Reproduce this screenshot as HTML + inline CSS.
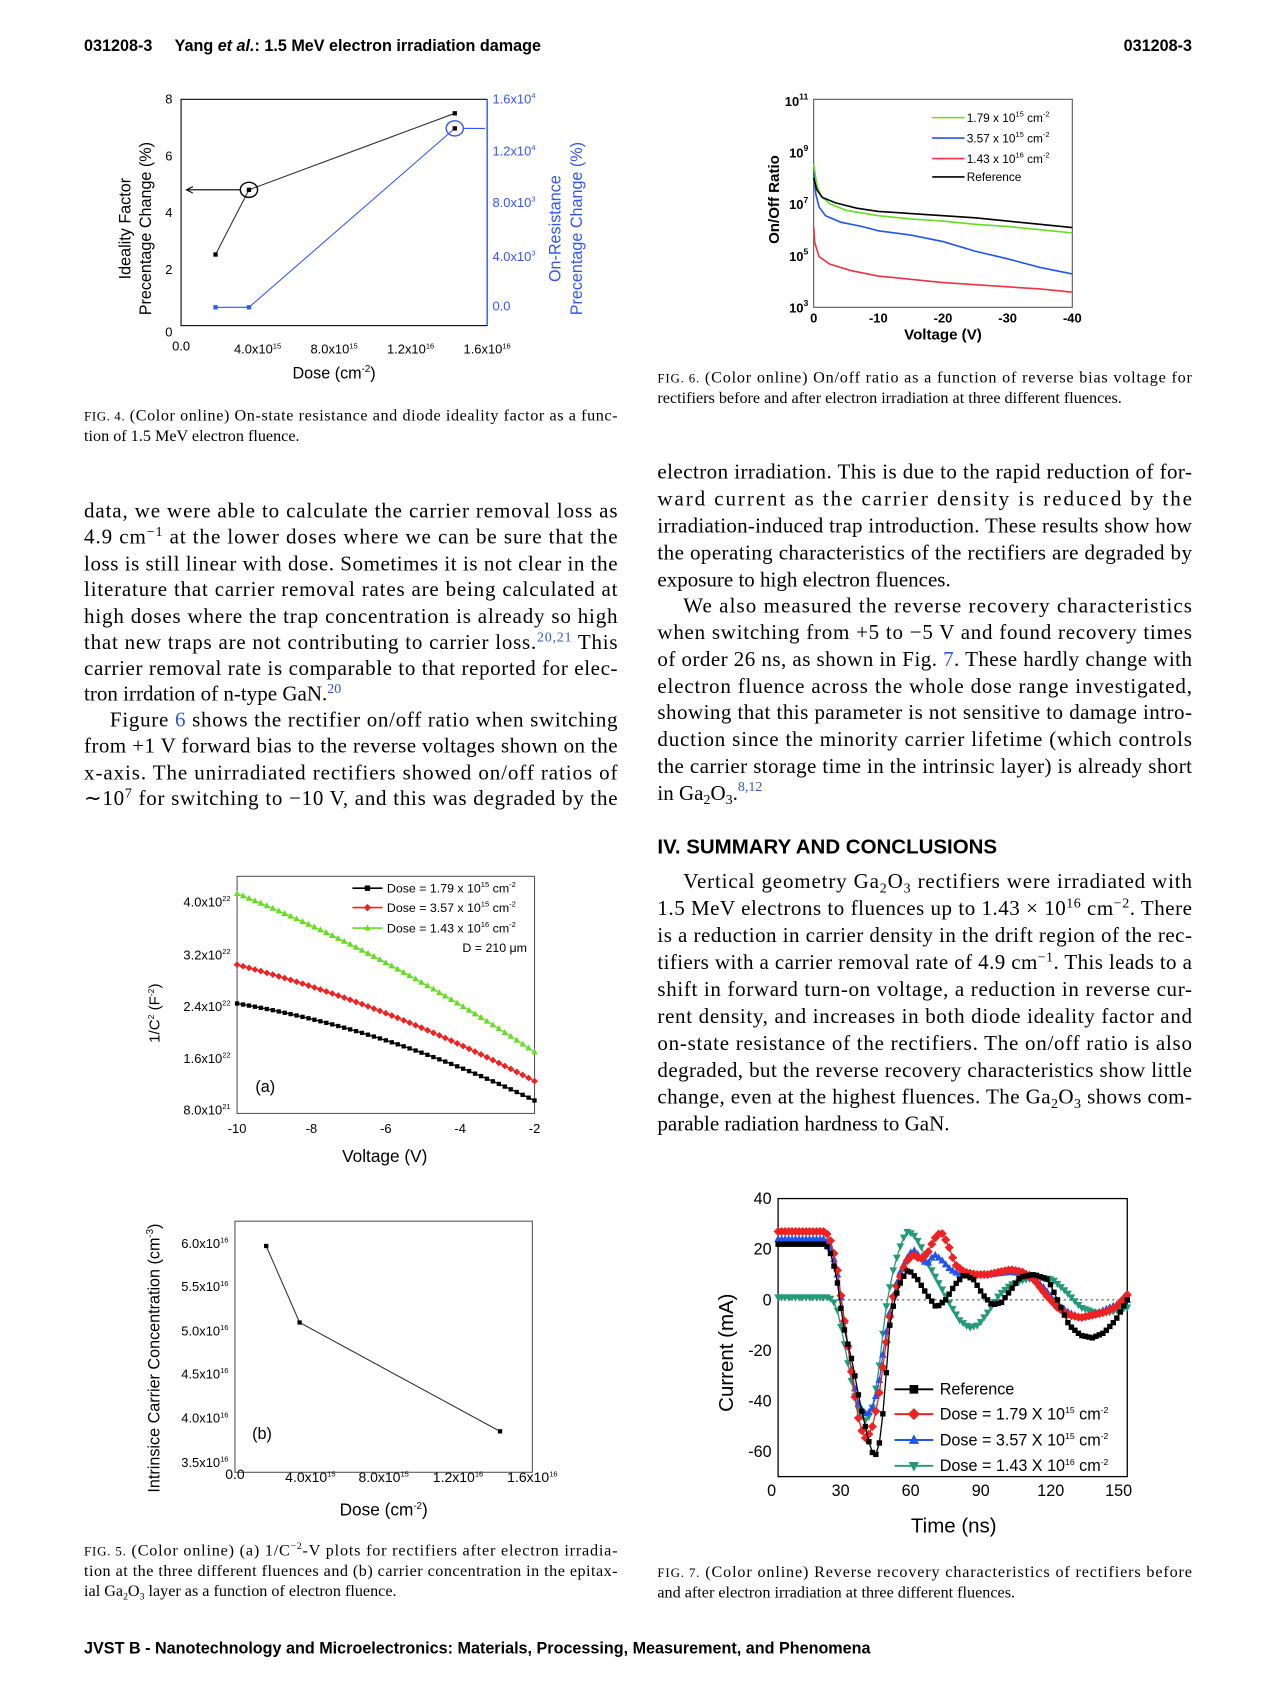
<!DOCTYPE html>
<html><head><meta charset="utf-8"><style>
html,body{margin:0;padding:0;background:#fff;}
svg{display:block}
.s{font-family:"Liberation Sans",sans-serif}
.r{font-family:"Liberation Serif",serif}
</style></head><body>
<svg id="S" width="1276" height="1688" viewBox="0 0 1184 1566" xmlns="http://www.w3.org/2000/svg">
<rect width="1184" height="1566" fill="#fff"/>
<!-- header -->
<text x="78" y="47" class="s" font-size="15" font-weight="bold">031208-3</text>
<text x="162" y="47" class="s" font-size="15" font-weight="bold">Yang <tspan font-style="italic">et al.</tspan>: 1.5 MeV electron irradiation damage</text>
<text x="1106" y="47" class="s" font-size="15" font-weight="bold" text-anchor="end">031208-3</text>

<!-- FIG 4 -->
<g class="s" font-size="12">
<rect x="168" y="92" width="284" height="210" fill="none" stroke="#000" stroke-width="1"/>
<line x1="452" y1="92" x2="452" y2="302" stroke="#3355ff" stroke-width="1.2"/>
<text x="160" y="96" text-anchor="end">8</text>
<text x="160" y="149" text-anchor="end">6</text>
<text x="160" y="201" text-anchor="end">4</text>
<text x="160" y="254" text-anchor="end">2</text>
<text x="160" y="312" text-anchor="end">0</text>
<g fill="#3355ff"><text x="457" y="96">1.6x10<tspan font-size="7" dy="-5">4</tspan></text>
<text x="457" y="144">1.2x10<tspan font-size="7" dy="-5">4</tspan></text>
<text x="457" y="192">8.0x10<tspan font-size="7" dy="-5">3</tspan></text>
<text x="457" y="242">4.0x10<tspan font-size="7" dy="-5">3</tspan></text>
<text x="457" y="288">0.0</text></g>
<text x="168" y="325" text-anchor="middle">0.0</text>
<text x="239" y="328" text-anchor="middle">4.0x10<tspan font-size="7" dy="-5">15</tspan></text>
<text x="310" y="328" text-anchor="middle">8.0x10<tspan font-size="7" dy="-5">15</tspan></text>
<text x="381" y="328" text-anchor="middle">1.2x10<tspan font-size="7" dy="-5">16</tspan></text>
<text x="452" y="328" text-anchor="middle">1.6x10<tspan font-size="7" dy="-5">16</tspan></text>
<text x="310" y="351" text-anchor="middle" font-size="15">Dose (cm<tspan font-size="9" dy="-6">-2</tspan><tspan dy="6">)</tspan></text>
<text transform="translate(121,212) rotate(-90)" text-anchor="middle" font-size="15">Ideality Factor</text>
<text transform="translate(140,212) rotate(-90)" text-anchor="middle" font-size="15">Precentage Change (%)</text>
<text transform="translate(520,212) rotate(-90)" text-anchor="middle" font-size="15" fill="#3355ff">On-Resistance</text>
<text transform="translate(540,212) rotate(-90)" text-anchor="middle" font-size="15" fill="#3355ff">Precentage Change (%)</text>
<polyline points="200,236 231,176 422,105" fill="none" stroke="#333" stroke-width="1"/>
<rect x="198" y="234" width="4" height="4"/><rect x="229" y="174" width="4" height="4"/><rect x="420" y="103" width="4" height="4"/>
<polyline points="200,285 231,285 422,119" fill="none" stroke="#3355ff" stroke-width="1"/>
<rect x="198" y="283" width="4" height="4" fill="#3355ff"/><rect x="229" y="283" width="4" height="4" fill="#3355ff"/><rect x="420" y="117" width="4" height="4" fill="#000"/>
<ellipse cx="231" cy="176" rx="8" ry="7" fill="none" stroke="#000" stroke-width="1.3"/>
<line x1="223" y1="176" x2="174" y2="176" stroke="#000"/><path d="M179,173 L173,176 L179,179" fill="none" stroke="#000"/>
<ellipse cx="422" cy="119" rx="8" ry="7" fill="none" stroke="#3355ff" stroke-width="1.3"/>
<line x1="430" y1="119" x2="450" y2="119" stroke="#3355ff"/>
</g>
<text x="78" y="390" class="r" font-size="15" textLength="495" lengthAdjust="spacing"><tspan font-size="12">FIG. 4.</tspan> (Color online) On-state resistance and diode ideality factor as a func-</text>
<text x="78" y="409" class="r" font-size="15">tion of 1.5 MeV electron fluence.</text>

<!-- FIG 6 -->
<g class="s" font-size="12">
<rect x="755" y="92" width="240" height="193" fill="none" stroke="#555" stroke-width="1"/>
<g font-weight="bold">
<text x="750" y="98" text-anchor="end">10<tspan font-size="8" dy="-6">11</tspan></text>
<text x="750" y="146" text-anchor="end">10<tspan font-size="8" dy="-6">9</tspan></text>
<text x="750" y="194" text-anchor="end">10<tspan font-size="8" dy="-6">7</tspan></text>
<text x="750" y="242" text-anchor="end">10<tspan font-size="8" dy="-6">5</tspan></text>
<text x="750" y="290" text-anchor="end">10<tspan font-size="8" dy="-6">3</tspan></text>
<text x="755" y="299" text-anchor="middle">0</text>
<text x="815" y="299" text-anchor="middle">-10</text>
<text x="875" y="299" text-anchor="middle">-20</text>
<text x="935" y="299" text-anchor="middle">-30</text>
<text x="995" y="299" text-anchor="middle">-40</text>
<text x="875" y="315" text-anchor="middle" font-size="14">Voltage (V)</text>
<text transform="translate(723,185) rotate(-90)" text-anchor="middle" font-size="14">On/Off Ratio</text>
</g>
<g font-size="11">
<line x1="865" y1="109" x2="895" y2="109" stroke="#66dd22" stroke-width="1.5"/><text x="897" y="113">1.79 x 10<tspan font-size="7" dy="-5">15</tspan><tspan dy="5"> cm</tspan><tspan font-size="7" dy="-5">-2</tspan></text>
<line x1="865" y1="128" x2="895" y2="128" stroke="#2255ee" stroke-width="1.5"/><text x="897" y="132">3.57 x 10<tspan font-size="7" dy="-5">15</tspan><tspan dy="5"> cm</tspan><tspan font-size="7" dy="-5">-2</tspan></text>
<line x1="865" y1="147" x2="895" y2="147" stroke="#ee3344" stroke-width="1.5"/><text x="897" y="151">1.43 x 10<tspan font-size="7" dy="-5">16</tspan><tspan dy="5"> cm</tspan><tspan font-size="7" dy="-5">-2</tspan></text>
<line x1="865" y1="164" x2="895" y2="164" stroke="#000" stroke-width="1.5"/><text x="897" y="168">Reference</text>
</g>
<polyline fill="none" stroke="#66dd22" stroke-width="1.5" points="755,152 758,172 762,182 770,189 785,195 815,200 845,203 875,205 905,208 935,210 965,213 995,216"/>
<polyline fill="none" stroke="#2255ee" stroke-width="1.5" points="755,160 757,180 760,192 766,200 780,206 800,210 815,214 845,218 875,224 905,233 935,240 965,248 995,254"/>
<polyline fill="none" stroke="#ee3344" stroke-width="1.5" points="755,210 756,225 760,238 770,245 790,251 815,256 845,259 875,262 905,264 935,266 965,268 995,271"/>
<polyline fill="none" stroke="#000" stroke-width="1.5" points="755,165 758,176 763,183 775,188 795,193 815,196 845,198 875,200 905,202 935,205 965,208 995,211"/>
</g>
<text x="610" y="355" class="r" font-size="15" textLength="496" lengthAdjust="spacing"><tspan font-size="12">FIG. 6.</tspan> (Color online) On/off ratio as a function of reverse bias voltage for</text>
<text x="610" y="374" class="r" font-size="15">rectifiers before and after electron irradiation at three different fluences.</text>

<!-- body text left -->
<g class="r" font-size="19.5">
<text x="78" y="480" textLength="495" lengthAdjust="spacing">data, we were able to calculate the carrier removal loss as</text>
<text x="78" y="504" textLength="495" lengthAdjust="spacing">4.9 cm<tspan font-size="13" dy="-7">−1</tspan><tspan dy="7"> at the lower doses where we can be sure that the</tspan></text>
<text x="78" y="529" textLength="495" lengthAdjust="spacing">loss is still linear with dose. Sometimes it is not clear in the</text>
<text x="78" y="553" textLength="495" lengthAdjust="spacing">literature that carrier removal rates are being calculated at</text>
<text x="78" y="578" textLength="495" lengthAdjust="spacing">high doses where the trap concentration is already so high</text>
<text x="78" y="602" textLength="495" lengthAdjust="spacing">that new traps are not contributing to carrier loss.<tspan font-size="13" dy="-7" fill="#3355cc">20,21</tspan><tspan dy="7"> This</tspan></text>
<text x="78" y="626" textLength="495" lengthAdjust="spacing">carrier removal rate is comparable to that reported for elec-</text>
<text x="78" y="650">tron irrdation of n-type GaN.<tspan font-size="13" dy="-7" fill="#3355cc">20</tspan></text>
<text x="102" y="674" textLength="471" lengthAdjust="spacing">Figure <tspan fill="#3355cc">6</tspan> shows the rectifier on/off ratio when switching</text>
<text x="78" y="698" textLength="495" lengthAdjust="spacing">from +1 V forward bias to the reverse voltages shown on the</text>
<text x="78" y="723" textLength="495" lengthAdjust="spacing">x-axis. The unirradiated rectifiers showed on/off ratios of</text>
<text x="78" y="747" textLength="495" lengthAdjust="spacing">∼10<tspan font-size="13" dy="-7">7</tspan><tspan dy="7"> for switching to −10 V, and this was degraded by the</tspan></text>
</g>
<!-- body text right -->
<g class="r" font-size="19.5">
<text x="610" y="444" textLength="496" lengthAdjust="spacing">electron irradiation. This is due to the rapid reduction of for-</text>
<text x="610" y="469" textLength="496" lengthAdjust="spacing">ward current as the carrier density is reduced by the</text>
<text x="610" y="494" textLength="496" lengthAdjust="spacing">irradiation-induced trap introduction. These results show how</text>
<text x="610" y="519" textLength="496" lengthAdjust="spacing">the operating characteristics of the rectifiers are degraded by</text>
<text x="610" y="544">exposure to high electron fluences.</text>
<text x="634" y="568" textLength="472" lengthAdjust="spacing">We also measured the reverse recovery characteristics</text>
<text x="610" y="593" textLength="496" lengthAdjust="spacing">when switching from +5 to −5 V and found recovery times</text>
<text x="610" y="618" textLength="496" lengthAdjust="spacing">of order 26 ns, as shown in Fig. <tspan fill="#3355cc">7</tspan>. These hardly change with</text>
<text x="610" y="643" textLength="496" lengthAdjust="spacing">electron fluence across the whole dose range investigated,</text>
<text x="610" y="667" textLength="496" lengthAdjust="spacing">showing that this parameter is not sensitive to damage intro-</text>
<text x="610" y="692" textLength="496" lengthAdjust="spacing">duction since the minority carrier lifetime (which controls</text>
<text x="610" y="717" textLength="496" lengthAdjust="spacing">the carrier storage time in the intrinsic layer) is already short</text>
<text x="610" y="742">in Ga<tspan font-size="13" dy="4">2</tspan><tspan dy="-4">O</tspan><tspan font-size="13" dy="4">3</tspan><tspan dy="-4">.</tspan><tspan font-size="13" dy="-8" fill="#3355cc">8,12</tspan></text>
<text x="610" y="792" class="s" font-size="19" font-weight="bold">IV. SUMMARY AND CONCLUSIONS</text>
<text x="634" y="824" textLength="472" lengthAdjust="spacing">Vertical geometry Ga<tspan font-size="13" dy="4">2</tspan><tspan dy="-4">O</tspan><tspan font-size="13" dy="4">3</tspan><tspan dy="-4"> rectifiers were irradiated with</tspan></text>
<text x="610" y="849" textLength="496" lengthAdjust="spacing">1.5 MeV electrons to fluences up to 1.43 × 10<tspan font-size="13" dy="-7">16</tspan><tspan dy="7"> cm</tspan><tspan font-size="13" dy="-7">−2</tspan><tspan dy="7">. There</tspan></text>
<text x="610" y="874" textLength="496" lengthAdjust="spacing">is a reduction in carrier density in the drift region of the rec-</text>
<text x="610" y="899" textLength="496" lengthAdjust="spacing">tifiers with a carrier removal rate of 4.9 cm<tspan font-size="13" dy="-7">−1</tspan><tspan dy="7">. This leads to a</tspan></text>
<text x="610" y="924" textLength="496" lengthAdjust="spacing">shift in forward turn-on voltage, a reduction in reverse cur-</text>
<text x="610" y="949" textLength="496" lengthAdjust="spacing">rent density, and increases in both diode ideality factor and</text>
<text x="610" y="974" textLength="496" lengthAdjust="spacing">on-state resistance of the rectifiers. The on/off ratio is also</text>
<text x="610" y="999" textLength="496" lengthAdjust="spacing">degraded, but the reverse recovery characteristics show little</text>
<text x="610" y="1024" textLength="496" lengthAdjust="spacing">change, even at the highest fluences. The Ga<tspan font-size="13" dy="4">2</tspan><tspan dy="-4">O</tspan><tspan font-size="13" dy="4">3</tspan><tspan dy="-4"> shows com-</tspan></text>
<text x="610" y="1049">parable radiation hardness to GaN.</text>
</g>

<!-- FIG 5a -->
<g class="s" font-size="12" id="f5a">
<rect x="220" y="813" width="276" height="220" fill="none" stroke="#555"/>
<text x="214" y="841" text-anchor="end">4.0x10<tspan font-size="7" dy="-5">22</tspan></text>
<text x="214" y="890" text-anchor="end">3.2x10<tspan font-size="7" dy="-5">22</tspan></text>
<text x="214" y="938" text-anchor="end">2.4x10<tspan font-size="7" dy="-5">22</tspan></text>
<text x="214" y="986" text-anchor="end">1.6x10<tspan font-size="7" dy="-5">22</tspan></text>
<text x="214" y="1034" text-anchor="end">8.0x10<tspan font-size="7" dy="-5">21</tspan></text>
<text x="220" y="1051" text-anchor="middle">-10</text><text x="289" y="1051" text-anchor="middle">-8</text><text x="358" y="1051" text-anchor="middle">-6</text><text x="427" y="1051" text-anchor="middle">-4</text><text x="496" y="1051" text-anchor="middle">-2</text>
<text x="357" y="1078" text-anchor="middle" font-size="16">Voltage (V)</text>
<text transform="translate(148,940) rotate(-90)" text-anchor="middle" font-size="14">1/C<tspan font-size="8" dy="-5">2</tspan><tspan dy="5"> (F</tspan><tspan font-size="8" dy="-5">-2</tspan><tspan dy="5">)</tspan></text>
<text x="237" y="1013" font-size="15">(a)</text>
<g font-size="11.5">
<text x="359" y="828">Dose = 1.79 x 10<tspan font-size="7" dy="-5">15</tspan><tspan dy="5"> cm</tspan><tspan font-size="7" dy="-5">-2</tspan></text>
<text x="359" y="846">Dose = 3.57 x 10<tspan font-size="7" dy="-5">15</tspan><tspan dy="5"> cm</tspan><tspan font-size="7" dy="-5">-2</tspan></text>
<text x="359" y="865">Dose = 1.43 x 10<tspan font-size="7" dy="-5">16</tspan><tspan dy="5"> cm</tspan><tspan font-size="7" dy="-5">-2</tspan></text>
<text x="489" y="883" text-anchor="end">D = 210 μm</text>
</g>
</g>

<!-- FIG 5b -->
<g class="s" font-size="12">
<rect x="218" y="1133" width="276" height="233" fill="none" stroke="#555"/>
<text x="212" y="1158" text-anchor="end">6.0x10<tspan font-size="7" dy="-5">16</tspan></text>
<text x="212" y="1198" text-anchor="end">5.5x10<tspan font-size="7" dy="-5">16</tspan></text>
<text x="212" y="1239" text-anchor="end">5.0x10<tspan font-size="7" dy="-5">16</tspan></text>
<text x="212" y="1279" text-anchor="end">4.5x10<tspan font-size="7" dy="-5">16</tspan></text>
<text x="212" y="1320" text-anchor="end">4.0x10<tspan font-size="7" dy="-5">16</tspan></text>
<text x="212" y="1361" text-anchor="end">3.5x10<tspan font-size="7" dy="-5">16</tspan></text>
<text x="218" y="1372" text-anchor="middle" font-size="13">0.0</text>
<text x="288" y="1375" text-anchor="middle" font-size="13">4.0x10<tspan font-size="7" dy="-5">15</tspan></text>
<text x="356" y="1375" text-anchor="middle" font-size="13">8.0x10<tspan font-size="7" dy="-5">15</tspan></text>
<text x="425" y="1375" text-anchor="middle" font-size="13">1.2x10<tspan font-size="7" dy="-5">16</tspan></text>
<text x="494" y="1375" text-anchor="middle" font-size="13">1.6x10<tspan font-size="7" dy="-5">16</tspan></text>
<text x="356" y="1406" text-anchor="middle" font-size="16">Dose (cm<tspan font-size="9" dy="-6">-2</tspan><tspan dy="6">)</tspan></text>
<text transform="translate(148,1260) rotate(-90)" text-anchor="middle" font-size="15">Intrinsice Carrier Concentration (cm<tspan font-size="9" dy="-6">-3</tspan><tspan dy="6">)</tspan></text>
<text x="234" y="1335" font-size="15">(b)</text>
<polyline points="247,1156 278,1227 464,1328" fill="none" stroke="#333"/>
<rect x="245" y="1154" width="4" height="4"/><rect x="276" y="1225" width="4" height="4"/><rect x="462" y="1326" width="4" height="4"/>
</g>
<text x="78" y="1443" class="r" font-size="15" textLength="495" lengthAdjust="spacing"><tspan font-size="12">FIG. 5.</tspan> (Color online) (a) 1/C<tspan font-size="9" dy="-6">−2</tspan><tspan dy="6">-V plots for rectifiers after electron irradia-</tspan></text>
<text x="78" y="1462" class="r" font-size="15" textLength="495" lengthAdjust="spacing">tion at the three different fluences and (b) carrier concentration in the epitax-</text>
<text x="78" y="1481" class="r" font-size="15">ial Ga<tspan font-size="9" dy="3">2</tspan><tspan dy="-3">O</tspan><tspan font-size="9" dy="3">3</tspan><tspan dy="-3"> layer as a function of electron fluence.</tspan></text>

<!-- FIG 7 -->
<g class="s" font-size="15" id="f7">
<rect x="722" y="1112" width="324" height="258" fill="none" stroke="#000" stroke-width="1.2"/>
<line x1="722" y1="1206" x2="1046" y2="1206" stroke="#333" stroke-dasharray="2,3"/>
<text x="716" y="1117" text-anchor="end">40</text><text x="716" y="1164" text-anchor="end">20</text><text x="716" y="1211" text-anchor="end">0</text>
<text x="716" y="1258" text-anchor="end">-20</text><text x="716" y="1305" text-anchor="end">-40</text><text x="716" y="1352" text-anchor="end">-60</text>
<text x="716" y="1388" text-anchor="middle">0</text><text x="780" y="1388" text-anchor="middle">30</text><text x="845" y="1388" text-anchor="middle">60</text><text x="910" y="1388" text-anchor="middle">90</text><text x="975" y="1388" text-anchor="middle">120</text><text x="1038" y="1388" text-anchor="middle">150</text>
<text x="885" y="1422" text-anchor="middle" font-size="19">Time (ns)</text>
<text transform="translate(680,1255) rotate(-90)" text-anchor="middle" font-size="19">Current (mA)</text>
<g font-size="15">
<text x="872" y="1294">Reference</text>
<text x="872" y="1317">Dose = 1.79 X 10<tspan font-size="8" dy="-6">15</tspan><tspan dy="6"> cm</tspan><tspan font-size="8" dy="-6">-2</tspan></text>
<text x="872" y="1341">Dose = 3.57 X 10<tspan font-size="8" dy="-6">15</tspan><tspan dy="6"> cm</tspan><tspan font-size="8" dy="-6">-2</tspan></text>
<text x="872" y="1365">Dose = 1.43 X 10<tspan font-size="8" dy="-6">16</tspan><tspan dy="6"> cm</tspan><tspan font-size="8" dy="-6">-2</tspan></text>
</g>
</g>
<text x="610" y="1463" class="r" font-size="15" textLength="496" lengthAdjust="spacing"><tspan font-size="12">FIG. 7.</tspan> (Color online) Reverse recovery characteristics of rectifiers before</text>
<text x="610" y="1482" class="r" font-size="15">and after electron irradiation at three different fluences.</text>

<text x="78" y="1534" class="s" font-size="15" font-weight="bold">JVST B - Nanotechnology and Microelectronics: Materials, Processing, Measurement, and Phenomena</text>
</svg>
<script>
var NS="http://www.w3.org/2000/svg",S=document.getElementById("S");
function el(t,a){var e=document.createElementNS(NS,t);for(var k in a)e.setAttribute(k,a[k]);S.appendChild(e);return e;}
function interp(p,x){for(var i=0;i<p.length-1;i++){if(x<=p[i+1][0]){var a=p[i],b=p[i+1];return a[1]+(b[1]-a[1])*(x-a[0])/(b[0]-a[0]);}}return p[p.length-1][1];}
function marker(type,x,y,c,s){
 if(type=="sq")el("rect",{x:x-s/2,y:y-s/2,width:s,height:s,fill:c});
 else if(type=="di")el("polygon",{points:(x)+","+(y-s*0.7)+" "+(x+s*0.7)+","+y+" "+x+","+(y+s*0.7)+" "+(x-s*0.7)+","+y,fill:c});
 else if(type=="tu")el("polygon",{points:x+","+(y-s*0.65)+" "+(x+s*0.6)+","+(y+s*0.45)+" "+(x-s*0.6)+","+(y+s*0.45),fill:c});
 else el("polygon",{points:x+","+(y+s*0.65)+" "+(x+s*0.6)+","+(y-s*0.45)+" "+(x-s*0.6)+","+(y-s*0.45),fill:c});
}
function series(f,x0,x1,step,fx,fy,c,type,ms){
 var d="";for(var x=x0;x<=x1+1e-9;x+=step){var X=fx(x),Y=fy(f(x));d+=(d?"L":"M")+X.toFixed(1)+","+Y.toFixed(1);}
 el("path",{d:d,fill:"none",stroke:c,"stroke-width":1.2});
 for(var x=x0;x<=x1+1e-9;x+=step){marker(type,fx(x),fy(f(x)),c,ms);}
}
function P(p){return function(x){return interp(p,x);};}
function Q(a,b,c){return function(v){var t=(v+10)/8;return a+b*t+c*t*t;};}
// fig5a
var fx5=function(v){return 220+(v+10)*34.5},fy5=function(v){return 1030-(v-0.8)/0.8*48};
series(Q(2.45,-0.78,-0.72),-10,-2,0.16,fx5,fy5,"#000","sq",4);
series(Q(3.05,-1.2,-0.6),-10,-2,0.16,fx5,fy5,"#ee2222","di",4.5);
series(Q(4.15,-1.83,-0.62),-10,-2,0.16,fx5,fy5,"#66dd22","tu",5);
[[824,"#000","sq"],[842,"#ee2222","di"],[861,"#66dd22","tu"]].forEach(function(l){el("line",{x1:327,y1:l[0],x2:355,y2:l[0],stroke:l[1],"stroke-width":1.5});marker(l[2],341,l[0],l[1],5);});
// fig7
var fx7=function(t){return 722+t*2.16},fy7=function(i){return 1206-i*2.35};
var ref=[[0,22],[20,22],[22,20],[25,10],[28,-10],[32,-25],[35,-40],[38,-52],[40,-60],[42,-61],[44,-55],[46,-35],[48,-10],[50,0],[53,8],[56,12],[60,8],[64,2],[68,-3],[72,0],[76,6],[80,10],[84,8],[88,2],[92,-2],[96,-1],[100,4],[104,9],[110,10],[116,8],[120,0],[125,-10],[130,-14],[135,-15],[140,-13],[145,-8],[150,0]];
var red=[[0,27],[20,27],[22,25],[25,15],[28,-5],[31,-25],[34,-45],[37,-55],[40,-52],[43,-40],[46,-20],[49,0],[52,8],[55,15],[58,18],[61,16],[64,18],[67,24],[70,27],[73,22],[76,14],[80,11],[85,10],[90,10],[95,11],[100,12],[105,11],[110,8],[115,2],[120,-3],[125,-6],[130,-7],[135,-6],[140,-5],[145,-3],[150,2]];
var blu=[[0,24],[20,24],[22,22],[25,13],[28,-5],[31,-25],[34,-40],[37,-45],[40,-44],[43,-35],[46,-15],[49,0],[52,10],[55,16],[58,20],[61,17],[64,14],[67,18],[70,16],[74,12],[78,10],[84,10],[90,10],[100,11],[108,10],[114,5],[120,-2],[125,-5],[130,-7],[135,-6],[140,-4],[150,0]];
var grn=[[0,1],[22,1],[25,-2],[28,-15],[31,-30],[34,-42],[37,-48],[40,-45],[43,-30],[46,-5],[49,10],[52,20],[55,27],[58,26],[61,22],[64,15],[67,10],[70,5],[74,-2],[78,-8],[82,-11],[86,-10],[90,-5],[95,2],[100,6],[106,8],[112,9],[118,8],[124,3],[130,-3],[136,-5],[142,-5],[150,-3]];
series(P(grn),0,150,1.5,fx7,fy7,"#229977","td",6);
series(P(blu),0,150,1.5,fx7,fy7,"#2255ee","tu",6);
series(P(red),0,150,1.5,fx7,fy7,"#ee2222","di",6);
series(P(ref),0,150,1.5,fx7,fy7,"#000","sq",5);
[[1289,"#000","sq"],[1312,"#ee2222","di"],[1336,"#2255ee","tu"],[1360,"#229977","td"]].forEach(function(l){el("line",{x1:830,y1:l[0],x2:866,y2:l[0],stroke:l[1],"stroke-width":1.8});marker(l[2],848,l[0],l[1],8);});
</script>
</body></html>
